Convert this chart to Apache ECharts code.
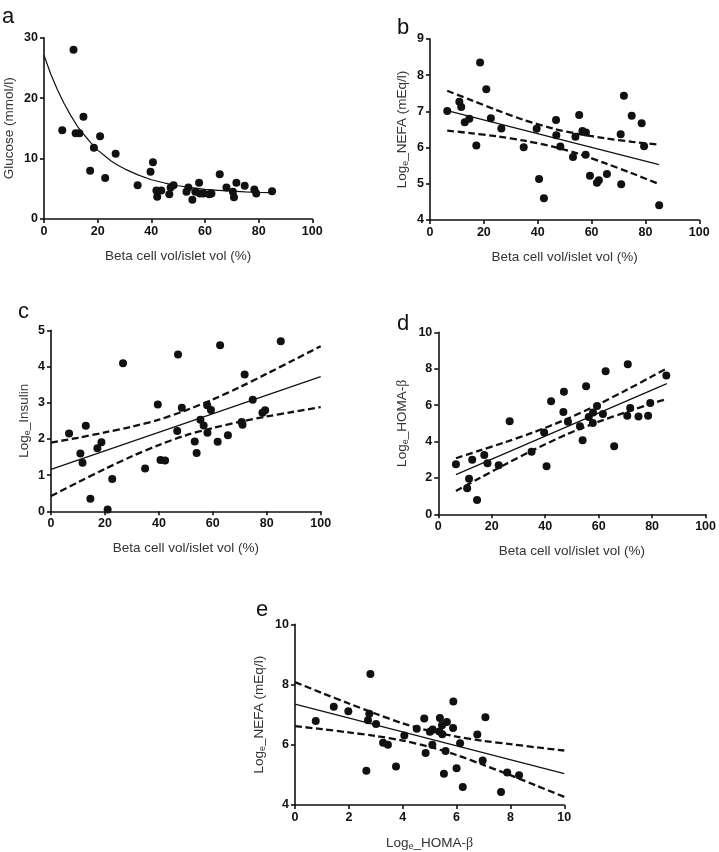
<!DOCTYPE html>
<html><head><meta charset="utf-8">
<script src="https://cdn.jsdelivr.net/npm/echarts@6/dist/echarts.min.js"></script>
<style>html,body{margin:0;padding:0;background:#fff}#c{width:719px;height:852px}</style>
</head><body><div id="c"></div>
<script>
// ---- Panel a: Glucose vs beta cell volume ----
const aX = [6.8,11.0,11.8,13.2,14.7,17.2,18.6,20.9,22.8,26.7,34.9,39.7,40.6,41.9,42.2,43.7,46.7,47.2,48.3,53.1,53.8,55.3,56.4,57.8,58.1,59.4,61.6,62.4,65.5,68.0,70.4,70.8,71.7,74.8,78.4,79.1,85.0];
const aY = [14.7,28.0,14.2,14.2,16.9,8.0,11.8,13.7,6.8,10.8,5.6,7.8,9.4,4.7,3.7,4.7,4.1,5.2,5.6,4.5,5.2,3.2,4.5,6.0,4.2,4.2,4.1,4.2,7.4,5.2,4.5,3.6,6.0,5.5,4.9,4.2,4.6];
const aFitX = [0,2.5,5,7.5,10,12.5,15,17.5,20,22.5,25,27.5,30,35,40,45,50,55,60,65,70,75,80,85];
const aFitY = [27.1,24.0,21.4,19.1,17.1,15.3,13.9,12.6,11.4,10.5,9.6,8.9,8.3,7.3,6.5,5.95,5.5,5.2,4.9,4.75,4.6,4.5,4.42,4.36];

// ---- Panel b: Log NEFA vs beta cell volume ----
const bX = [6.4,10.9,11.6,12.9,14.6,18.6,17.2,20.9,22.6,26.5,34.8,39.6,40.5,42.3,46.8,46.9,48.4,53.1,54.0,55.4,56.6,57.9,57.8,59.4,62.0,62.7,65.7,70.8,71.0,72.0,74.9,78.6,79.5,85.1];
const bY = [7.01,7.27,7.12,6.70,6.80,8.35,6.06,7.61,6.81,6.53,6.01,6.52,5.13,4.60,6.76,6.34,6.03,5.74,6.30,6.90,6.46,6.42,5.80,5.22,5.03,5.10,5.27,6.37,4.99,7.43,6.88,6.67,6.04,4.41];
const bFitX = [6.4,85.1];
const bFitY = [7.02,5.53];
const bBandX = [6.4,15,25,35,46,55,65,75,85.1];
const bUpper = [7.57,7.32,7.03,6.76,6.52,6.38,6.26,6.16,6.08];
const bLower = [6.47,6.40,6.31,6.19,6.02,5.83,5.57,5.29,4.99];

// ---- Panel c: Log Insulin vs beta cell volume ----
const cX = [6.7,10.9,11.7,12.9,14.6,17.2,18.7,21.0,22.7,26.7,34.9,39.6,40.6,42.3,46.8,47.1,48.5,53.3,54.0,55.4,56.6,57.9,58.0,59.3,61.8,62.7,65.6,70.7,71.0,71.8,74.8,78.4,79.4,85.2];
const cY = [2.15,1.60,1.34,2.36,0.35,1.74,1.91,0.05,0.89,4.09,1.18,2.95,1.42,1.40,2.22,4.33,2.86,1.93,1.61,2.53,2.37,2.93,2.17,2.80,1.92,4.59,2.10,2.47,2.39,3.78,3.08,2.72,2.79,4.70];
const cFitX = [0,100];
const cFitY = [1.16,3.72];
const cBandX = [0,10,20,30,40,50,60,70,80,90,100];
const cUpper = [1.90,2.03,2.18,2.34,2.53,2.79,3.09,3.43,3.80,4.18,4.56];
const cLower = [0.42,0.80,1.17,1.52,1.83,2.10,2.30,2.47,2.62,2.75,2.88];

// ---- Panel d: Log HOMA-beta vs beta cell volume ----
const dX = [6.6,10.8,11.5,12.7,14.5,17.2,18.4,22.6,26.7,34.9,39.6,40.5,42.2,46.8,47.0,48.5,53.0,54.0,55.3,56.3,57.9,57.8,59.4,61.6,62.6,65.8,70.7,70.9,71.8,74.9,78.5,79.3,85.3];
const dY = [2.75,1.43,1.96,3.00,0.79,3.26,2.80,2.69,5.11,3.44,4.49,2.64,6.21,5.62,6.74,5.09,4.84,4.07,7.03,5.35,5.59,5.02,5.95,5.51,7.86,3.74,5.42,8.24,5.84,5.38,5.42,6.12,7.62];
const dFitX = [6.6,85.5];
const dFitY = [2.18,7.18];
const dBandX = [6.6,15,25,35,48,60,70,80,85.5];
const dUpper = [3.08,3.48,3.96,4.47,5.23,6.05,6.80,7.58,8.02];
const dLower = [1.28,1.95,2.74,3.49,4.39,5.09,5.60,6.09,6.34];

// ---- Panel e: Log NEFA vs Log HOMA-beta ----
const eX = [0.77,1.44,1.98,2.65,2.71,2.76,2.80,3.01,3.27,3.45,3.75,4.06,4.52,4.80,4.85,5.01,5.11,5.10,5.36,5.38,5.46,5.47,5.53,5.59,5.64,5.87,5.88,6.00,6.13,6.23,6.77,6.97,7.07,7.65,7.88,8.32];
const eY = [6.79,7.26,7.11,5.14,6.81,7.03,8.35,6.69,6.07,6.00,5.28,6.31,6.53,6.87,5.73,6.43,6.51,6.00,6.44,6.89,6.65,6.35,5.04,5.79,6.76,6.56,7.44,5.22,6.05,4.60,6.34,5.48,6.91,4.43,5.08,4.99];
const eFitX = [0,10];
const eFitY = [7.35,5.04];
const eBandX = [0,1,2,3,4,5,6,7,8,9,10];
const eUpper = [8.08,7.72,7.37,7.03,6.71,6.46,6.27,6.13,6.02,5.91,5.81];
const eLower = [6.62,6.52,6.41,6.29,6.14,5.93,5.66,5.33,4.99,4.63,4.27];

// ---- Text ----
const panelLetters = ['a','b','c','d','e'];
const xNames = ['Beta cell vol/islet vol (%)','Beta cell vol/islet vol (%)','Beta cell vol/islet vol (%)','Beta cell vol/islet vol (%)','Log{s|e}_HOMA-{g|β}'];
const yNames = ['Glucose (mmol/l)','Log{s|e}_NEFA (mEq/l)','Log{s|e}_Insulin','Log{s|e}_HOMA-{g|β}','Log{s|e}_NEFA (mEq/l)'];
const xRanges = [[0,100,20],[0,100,20],[0,100,20],[0,100,20],[0,10,2]];
const yRanges = [[0,30,10],[4,9,1],[0,5,1],[0,10,2],[4,10,2]];

const FONT = "'Liberation Sans', Arial, sans-serif";
const INK = '#111111';
const grids = [
  {left:41.7, top:37.7, width:270.6, height:181.3},
  {left:430, top:39, width:269.3, height:181},
  {left:51, top:330.3, width:269.7, height:181},
  {left:438.3, top:332.3, width:269.4, height:182},
  {left:295, top:624.3, width:269.3, height:181.4}
];
const yNameGap = [27, 20, 19, 28, 28];
const letterPos = [[2,5.5],[397,17],[18,300.5],[397,313],[256,599]];

const rich = {
  s: {fontSize: 9, color: '#333', fontFamily: FONT, verticalAlign: 'bottom', lineHeight: 9},
  g: {fontSize: 14, color: '#333', fontFamily: "'Liberation Serif', serif"}
};

function axisBase(gi, r, name, gap) {
  return {
    gridIndex: gi, type: 'value', min: r[0], max: r[1], interval: r[2],
    axisLine: {show: true, onZero: false, lineStyle: {color: INK, width: 1.6}},
    axisTick: {show: true, inside: false, length: 4, lineStyle: {color: INK, width: 1.6}},
    axisLabel: {color: INK, fontWeight: 'bold', fontSize: 12.5, fontFamily: FONT, margin: 6},
    splitLine: {show: false},
    name: name, nameLocation: 'middle', nameGap: gap,
    nameTextStyle: {color: '#333', fontSize: 13.5, fontFamily: FONT, lineHeight: 16, rich: rich}
  };
}

const pairs = (xs, ys) => xs.map((x, i) => [x, ys[i]]);

const panels = [
  {pts: [aX, aY], fit: [aFitX, aFitY]},
  {pts: [bX, bY], fit: [bFitX, bFitY], band: [bBandX, bUpper, bLower]},
  {pts: [cX, cY], fit: [cFitX, cFitY], band: [cBandX, cUpper, cLower]},
  {pts: [dX, dY], fit: [dFitX, dFitY], band: [dBandX, dUpper, dLower]},
  {pts: [eX, eY], fit: [eFitX, eFitY], band: [eBandX, eUpper, eLower]}
];

const xAxes = [], yAxes = [], series = [];
panels.forEach((p, i) => {
  xAxes.push(axisBase(i, xRanges[i], xNames[i], i === 4 ? 30 : 29));
  yAxes.push(axisBase(i, yRanges[i], yNames[i], yNameGap[i]));
  series.push({
    type: 'line', xAxisIndex: i, yAxisIndex: i, data: pairs(p.fit[0], p.fit[1]),
    symbol: 'none', smooth: false,
    lineStyle: {color: INK, width: 1.2}, z: 3, silent: true
  });
  if (p.band) {
    [p.band[1], p.band[2]].forEach(arr => {
      series.push({
        type: 'line', xAxisIndex: i, yAxisIndex: i, data: pairs(p.band[0], arr),
        symbol: 'none', smooth: 0.3,
        lineStyle: {color: INK, width: 2.3, type: [7, 3.5]}, z: 3, silent: true
      });
    });
  }
  series.push({
    type: 'scatter', xAxisIndex: i, yAxisIndex: i, data: pairs(p.pts[0], p.pts[1]),
    symbol: 'circle', symbolSize: 8, itemStyle: {color: INK, opacity: 1}, z: 5, silent: true
  });
});

const graphic = panelLetters.map((t, i) => ({
  type: 'text', left: letterPos[i][0], top: letterPos[i][1],
  style: {text: t, font: "22px 'Liberation Sans', Arial, sans-serif", fill: '#111'}
}));

const chart = echarts.init(document.getElementById('c'), null, {renderer: 'canvas'});
chart.setOption({
  animation: false,
  backgroundColor: '#ffffff',
  grid: grids,
  xAxis: xAxes,
  yAxis: yAxes,
  series: series,
  graphic: graphic
});
</script>
</body></html>
